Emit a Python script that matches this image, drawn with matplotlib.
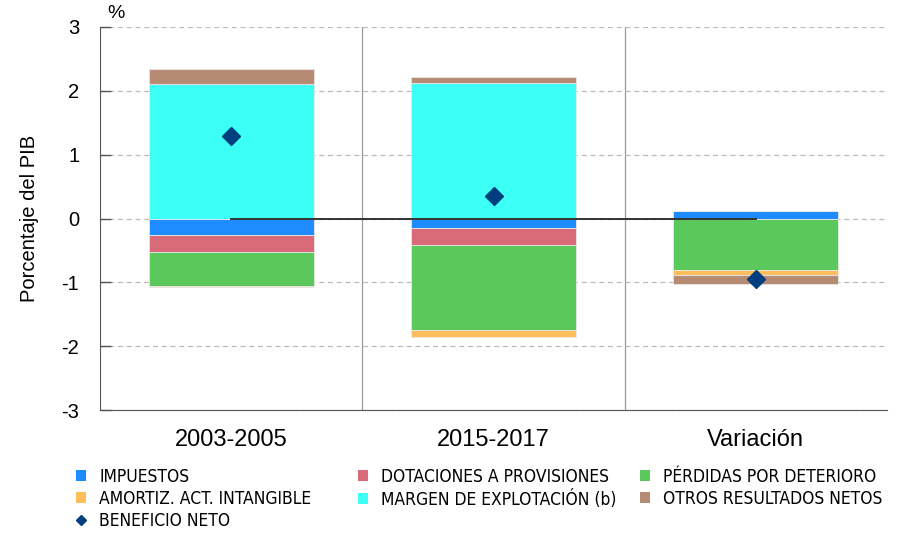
import matplotlib.pyplot as plt
from matplotlib.patches import Patch
from matplotlib.lines import Line2D
import numpy as np

plt.rcParams['font.family'] = ['Liberation Sans', 'DejaVu Sans']

categories = ['2003-2005', '2015-2017', 'Variación']
impuestos = [-0.26, -0.15, 0.11]
dotaciones = [-0.26, -0.26, 0.0]
perdidas = [-0.53, -1.33, -0.80]
amortiz = [-0.03, -0.12, -0.09]
margen = [2.11, 2.12, 0.01]
otros = [0.23, 0.09, -0.14]
beneficio = [1.29, 0.35, -0.94]

series = [
    ('IMPUESTOS', impuestos, '#1e8cff'),
    ('DOTACIONES A PROVISIONES', dotaciones, '#d96b78'),
    ('PÉRDIDAS POR DETERIORO', perdidas, '#5bc85b'),
    ('AMORTIZ. ACT. INTANGIBLE', amortiz, '#ffbe5a'),
    ('MARGEN DE EXPLOTACIÓN (b)', margen, '#3cfff5'),
    ('OTROS RESULTADOS NETOS', otros, '#b58c73'),
]
diamond_color = '#003f7f'

fig = plt.figure(figsize=(8.97, 5.36), dpi=100)
ax = fig.add_axes([100/897, 1-410/536, 787/897, 383/536])

x = np.arange(len(categories))
pos_base = np.zeros(len(x))
neg_base = np.zeros(len(x))
for name, vals, col in series:
    vals = np.array(vals)
    base = np.where(vals >= 0, pos_base, neg_base)
    ax.bar(x, vals, 0.63, bottom=base, color=col, edgecolor='#e8e8e8',
           linewidth=0.6, zorder=3)
    pos_base += np.where(vals >= 0, vals, 0)
    neg_base += np.where(vals < 0, vals, 0)

ax.plot(x, [0] * len(x), color='#333333', lw=1.4, zorder=4)
ax.plot(x, beneficio, 'D', color=diamond_color, ms=9, ls='none', zorder=5)

for sep in [0.5, 1.5]:
    ax.axvline(sep, color='#999999', lw=0.9, zorder=1)

ax.set_xlim(-0.5, 2.5)
ax.set_ylim(-3, 3)
ax.set_yticks(range(-3, 4))
ax.set_yticklabels([str(v) for v in range(-3, 4)], fontsize=14.5)
ax.set_xticks(x)
ax.set_xticklabels(categories, fontsize=17)
ax.tick_params(axis='x', length=0, pad=14)
ax.tick_params(axis='y', direction='in', length=8, width=1, color='#555555', pad=15)
ax.yaxis.grid(True, ls=(0, (4, 3)), color='#bbbbbb', lw=0.9, zorder=0)
for s in ['top', 'right']:
    ax.spines[s].set_visible(False)
ax.spines['left'].set_color('#555555')
ax.spines['bottom'].set_color('#555555')
ax.set_ylabel('Porcentaje del PIB', fontsize=14.5, labelpad=16)
fig.text(107/897, 1-14/536, '%', fontsize=14, va='center', ha='left')

# legend in three fixed columns
handles = {name: Patch(facecolor=col, edgecolor='none') for name, vals, col in series}
handles['BENEFICIO NETO'] = Line2D([], [], marker='D', color=diamond_color, ls='none', ms=5)
columns = [
    (['IMPUESTOS', 'AMORTIZ. ACT. INTANGIBLE', 'BENEFICIO NETO'], 76),
    (['DOTACIONES A PROVISIONES', 'MARGEN DE EXPLOTACIÓN (b)'], 358),
    (['PÉRDIDAS POR DETERIORO', 'OTROS RESULTADOS NETOS'], 640),
]
for names, xpix in columns:
    fig.legend([handles[n] for n in names], names, loc='upper left',
               bbox_to_anchor=(xpix/897, 1-468/536), frameon=False,
               borderpad=0, borderaxespad=0, handlelength=0.6, handleheight=0.6,
               handletextpad=0.75, labelspacing=0.22,
               prop={'family': 'DejaVu Sans', 'stretch': 'condensed', 'size': 12.5})

fig.savefig('out.png', dpi=100)
